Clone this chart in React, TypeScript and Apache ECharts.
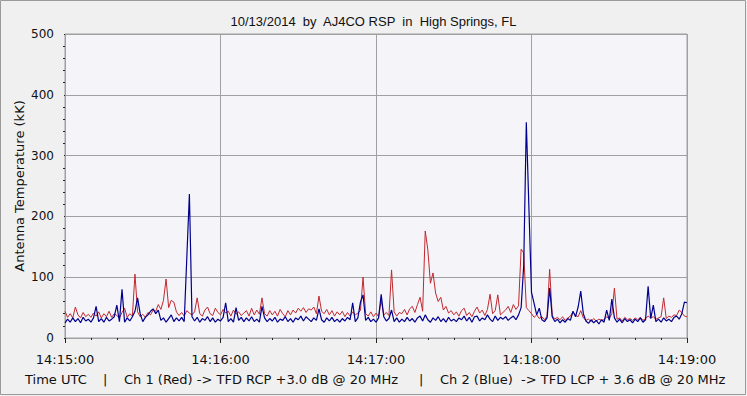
import React, { useEffect, useRef } from "react";
import * as echarts from "echarts";

// seconds after 14:15:00 (1 s step)
const ch1Red: number[] = [
  44, 34, 40, 33, 51, 38, 33, 42, 35, 39,
  34, 41, 36, 43, 33, 40, 35, 44, 34, 40,
  37, 33, 42, 49, 34, 40, 36, 105, 43, 35,
  39, 34, 42, 38, 46, 44, 55, 47, 62, 97,
  50, 62, 59, 43, 37, 42, 36, 45, 41, 38,
  43, 66, 40, 36, 46, 51, 40, 37, 49, 42,
  38, 47, 41, 44, 36, 46, 39, 43, 37, 41,
  45, 36, 49, 38, 46, 39, 66, 40, 36, 45,
  38, 44, 36, 47, 40, 35, 45, 38, 46, 41,
  49, 44, 50, 42, 48, 46, 51, 40, 69, 44,
  40, 47, 38, 45, 36, 43, 38, 44, 35, 42,
  36, 43, 38, 41, 45, 100, 40, 36, 43, 35,
  41, 35, 62, 38, 42, 37, 112, 43, 36, 42,
  40, 47, 38, 48, 52, 42, 55, 67, 44, 176,
  145, 90, 107, 74, 60, 67, 46, 52, 41, 45,
  38, 43, 36, 45, 49, 37, 42, 35, 44, 51,
  41, 46, 37, 47, 72, 40, 45, 71, 38, 42,
  46, 52, 42, 55, 47, 53, 146, 140, 50, 45,
  40, 34, 38, 32, 35, 30, 36, 113, 37, 31,
  34, 30, 35, 29, 33, 36, 43, 37, 35, 45,
  33, 29, 31, 27, 32, 28, 31, 29, 30, 35,
  32, 40, 82, 31, 33, 28, 34, 30, 32, 29,
  33, 30, 34, 29, 32, 36, 33, 35, 31, 33,
  35, 66, 32, 36, 34, 38, 37, 46, 42, 36,
  35,
];

const ch2Blue: number[] = [
  25, 31, 26, 33, 27, 32, 25, 34, 28, 31,
  26, 33, 52, 27, 32, 26, 34, 28, 31, 35,
  54, 27, 80, 26, 33, 28, 35, 44, 66, 40,
  27, 34, 38, 44, 48, 40, 46, 29, 33, 26,
  32, 38, 27, 33, 28, 34, 27, 132, 237, 35,
  28, 34, 26, 32, 29, 35, 27, 33, 26, 31,
  28, 34, 58, 27, 32, 26, 50, 29, 34, 27,
  33, 28, 35, 27, 31, 26, 52, 33, 27, 32,
  28, 34, 26, 31, 29, 35, 27, 32, 26, 33,
  30, 36, 28, 35, 31, 27, 33, 29, 48, 30,
  26, 33, 28, 34, 27, 31, 26, 32, 28, 34,
  30, 58, 27, 33, 59, 71, 29, 34, 27, 31,
  26, 33, 72, 35, 28, 32, 46, 27, 33, 26,
  31, 27, 34, 28, 32, 26, 33, 36, 28, 38,
  30, 26, 33, 29, 35, 27, 32, 26, 34, 28,
  31, 27, 33, 30, 36, 28, 34, 26, 35, 36,
  28, 33, 30, 38, 31, 27, 36, 29, 34, 31,
  35, 29, 33, 36, 30, 38, 50, 120, 355, 214,
  75, 57, 38, 49, 30, 27, 33, 82, 35, 27,
  31, 25, 30, 26, 32, 29, 44, 35, 51, 77,
  40, 28, 24, 30, 25, 29, 23, 30, 26, 46,
  29, 64, 33, 26, 31, 25, 32, 27, 30, 25,
  31, 27, 33, 26, 30, 85, 32, 54, 27, 31,
  26, 33, 28, 31, 27, 34, 36, 31, 40, 59,
  58,
];

const timeTickLabels = ["14:15:00", "14:16:00", "14:17:00", "14:18:00", "14:19:00"];
const titleText = "10/13/2014  by  AJ4CO RSP  in  High Springs, FL";
const yAxisName = "Antenna Temperature (kK)";
const footerParts = [
  "Time UTC",
  "|",
  "Ch 1 (Red) -> TFD RCP +3.0 dB @ 20 MHz",
  "|",
  "Ch 2 (Blue)  -> TFD LCP + 3.6 dB @ 20 MHz",
];
const footerX = [25, 103, 124, 419, 440];

export default function App() {
  const ref = useRef<HTMLDivElement>(null);
  useEffect(() => {
    document.body.style.margin = "0";
    if (!ref.current) return;
    const chart = echarts.init(ref.current, null, { renderer: "svg" });
    const redData = ch1Red.map((v, i) => [i, v]);
    const blueData = ch2Blue.map((v, i) => [i, v]);
    const font = "DejaVu Sans";
    chart.setOption({
      animation: false,
      backgroundColor: "#f0f0f0",
      title: {
        text: titleText,
        left: "center",
        top: 10,
        textStyle: { fontFamily: "Liberation Sans", fontSize: 13, fontWeight: "normal", color: "#111" },
      },
      grid: {
        left: 65,
        top: 34,
        right: 60,
        bottom: 58,
        show: true,
        backgroundColor: "#f5f5f9",
        borderColor: "#a0a0a0",
        borderWidth: 1,
      },
      xAxis: {
        type: "value",
        min: 0,
        max: 240,
        interval: 60,
        offset: 6,
        axisLine: { show: false },
        axisTick: { show: true, length: 5, lineStyle: { color: "#222" } },
        minorTick: { show: true, splitNumber: 6, length: 2, lineStyle: { color: "#222" } },
        splitLine: { show: true, lineStyle: { color: "#a0a0a0", width: 1 } },
        axisLabel: {
          margin: 9,
          fontFamily: font,
          fontSize: 13,
          color: "#111",
          formatter: (v: number) => timeTickLabels[Math.round(v / 60)] ?? "",
        },
      },
      yAxis: {
        type: "value",
        min: 0,
        max: 500,
        interval: 100,
        offset: 5,
        name: yAxisName,
        nameLocation: "middle",
        nameGap: 34,
        nameMoveOverlap: false,
        nameTextStyle: { fontFamily: font, fontSize: 13, color: "#111" },
        axisLine: { show: false },
        axisTick: { show: true, length: 1, lineStyle: { color: "#222" } },
        minorTick: { show: true, splitNumber: 5, length: 2, lineStyle: { color: "#222" } },
        splitLine: { show: true, lineStyle: { color: "#a0a0a0", width: 1 } },
        axisLabel: { margin: 6, fontFamily: font, fontSize: 12, color: "#111" },
      },
      graphic: [
        {
          type: "rect",
          shape: { x: 0.5, y: 0.5, width: 745, height: 394 },
          style: { fill: "none", stroke: "#9a9a9a", lineWidth: 1 },
          silent: true,
        },
        ...footerParts.map((t, i) => ({
          type: "text",
          x: footerX[i],
          y: 379,
          style: {
            text: t,
            fontFamily: font,
            fontSize: 13,
            fill: "#111",
            verticalAlign: "middle",
            textAlign: "left",
          },
          silent: true,
        })),
      ],
      series: [
        {
          name: "Ch 1 (Red)",
          type: "line",
          data: redData,
          showSymbol: false,
          lineStyle: { color: "#c0282e", width: 1 },
          itemStyle: { color: "#c0282e" },
        },
        {
          name: "Ch 2 (Blue)",
          type: "line",
          data: blueData,
          showSymbol: false,
          lineStyle: { color: "#00008c", width: 1.2 },
          itemStyle: { color: "#00008c" },
        },
      ],
    });
    return () => chart.dispose();
  }, []);
  return <div ref={ref} style={{ width: 747, height: 396 }} />;
}
